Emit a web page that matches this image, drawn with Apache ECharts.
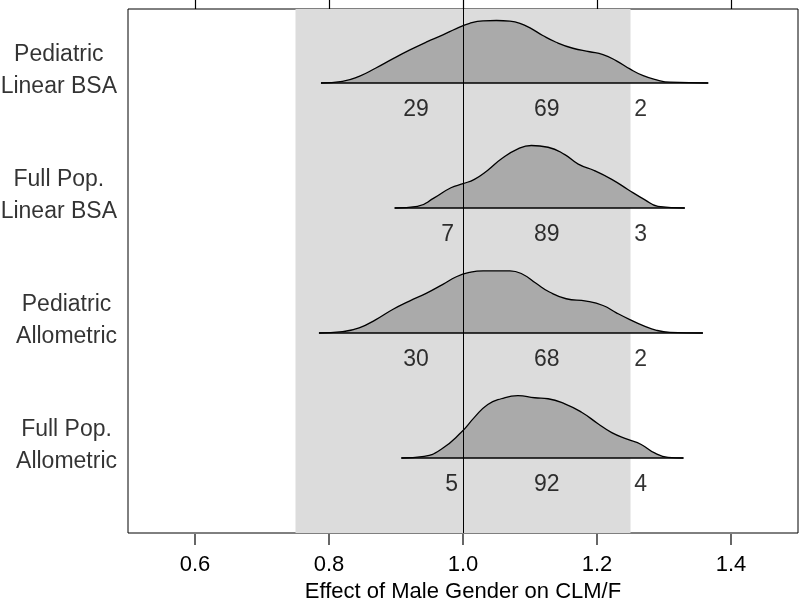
<!DOCTYPE html>
<html>
<head>
<meta charset="utf-8">
<script src="https://cdn.jsdelivr.net/npm/echarts@6/dist/echarts.min.js"></script>
<style>
  html, body { margin: 0; padding: 0; background: #fff; }
  #main { width: 800px; height: 601px; }
</style>
</head>
<body>
<div id="main"></div>
<script>
// ridge labels, top to bottom
var models = ['Pediatric\nLinear BSA', 'Full Pop.\nLinear BSA', 'Pediatric\nAllometric', 'Full Pop.\nAllometric'];
var rowPos = [3, 2, 1, 0];

// relative density (peak = 1)
var dens1 = [[0.788, 0], [0.820, 0.027], [0.845, 0.107], [0.870, 0.24], [0.895, 0.385], [0.920, 0.525],
  [0.945, 0.653], [0.970, 0.77], [0.99, 0.87], [1.01, 0.955], [1.03, 0.995], [1.05, 1.0], [1.07, 0.99], [1.085, 0.955],
  [1.102, 0.87], [1.119, 0.76], [1.139, 0.652], [1.164, 0.556], [1.189, 0.5], [1.209, 0.454], [1.229, 0.355],
  [1.249, 0.225], [1.269, 0.117], [1.289, 0.05], [1.309, 0.013], [1.366, 0]];
var dens2 = [[0.898, 0], [0.932, 0.027], [0.957, 0.162], [0.982, 0.324], [1.0, 0.389], [1.017, 0.459],
  [1.037, 0.605], [1.057, 0.783], [1.082, 0.945], [1.102, 1.0], [1.127, 0.972], [1.152, 0.854],
  [1.172, 0.702], [1.197, 0.595], [1.222, 0.459], [1.246, 0.297], [1.271, 0.135], [1.291, 0.027], [1.331, 0]];
var dens3 = [[0.785, 0], [0.820, 0.021], [0.845, 0.081], [0.870, 0.215], [0.895, 0.376], [0.920, 0.511],
  [0.945, 0.634], [0.970, 0.779], [0.99, 0.9], [1.01, 0.97], [1.03, 0.995], [1.07, 0.995], [1.089, 0.94], [1.109, 0.795],
  [1.129, 0.656], [1.154, 0.548], [1.184, 0.511], [1.209, 0.44], [1.229, 0.323], [1.249, 0.215],
  [1.269, 0.118], [1.289, 0.043], [1.309, 0.011], [1.358, 0]];
var dens4 = [[0.908, 0], [0.942, 0.027], [0.967, 0.135], [0.997, 0.407], [1.017, 0.65], [1.037, 0.857],
  [1.057, 0.948], [1.082, 0.997], [1.107, 0.964], [1.127, 0.948], [1.152, 0.867], [1.177, 0.732],
  [1.201, 0.553], [1.222, 0.407], [1.246, 0.298], [1.266, 0.216], [1.286, 0.081], [1.306, 0.011], [1.329, 0]];
var densities = [dens1, dens2, dens3, dens4];

// percentages below 1.0, between 1.0 and 1.25, above 1.25
var pctLow = [29, 7, 30, 5];
var pctMid = [69, 89, 68, 92];
var pctHigh = [2, 3, 2, 4];
var pctLowX = [0.93, 0.977, 0.93, 0.983];
var pctMidX = 1.125;
var pctHighX = 1.265;

var xTicks = [0.6, 0.8, 1.0, 1.2, 1.4];
var refBand = [0.75, 1.25];
var refLine = 1.0;
var yMin = -0.6, yMax = 3.592;

var font = 'Liberation Sans, Arial, sans-serif';
var ridgeScale = 0.5;

var series = [];

// shaded reference band and vertical line at 1
series.push({
  type: 'line',
  data: [],
  z: 1,
  markArea: {
    silent: true,
    itemStyle: { color: '#dcdcdc' },
    data: [[{ xAxis: refBand[0] }, { xAxis: refBand[1] }]]
  }
});
series.push({
  type: 'line',
  data: [],
  z: 10,
  markLine: {
    silent: true,
    symbol: 'none',
    label: { show: false },
    lineStyle: { color: '#000', width: 1, type: 'solid' },
    data: [{ xAxis: refLine }]
  }
});

densities.forEach(function (d, i) {
  var base = rowPos[i];
  series.push({
    type: 'line',
    z: 3,
    smooth: 0.5,
    showSymbol: false,
    silent: true,
    data: d.map(function (p) { return [p[0], base + p[1] * ridgeScale]; }),
    lineStyle: { color: '#000', width: 1.3 },
    areaStyle: { color: '#aaaaaa', opacity: 1, origin: base }
  });
  series.push({
    type: 'line',
    z: 4,
    showSymbol: false,
    silent: true,
    data: [[d[0][0], base], [d[d.length - 1][0], base]],
    lineStyle: { color: '#000', width: 1.3 }
  });
});

// tick marks under the plot box, placed through the x axis scale
series.push({
  type: 'custom',
  z: 12,
  silent: true,
  clip: false,
  data: xTicks.map(function (v) { return [v, yMin]; }),
  encode: { x: 0, y: 1 },
  renderItem: function (params, api) {
    var p = api.coord([api.value(0), api.value(1)]);
    return {
      type: 'line',
      shape: { x1: p[0], y1: p[1] + 1, x2: p[0], y2: p[1] + 12 },
      style: { stroke: '#000', lineWidth: 1.2 }
    };
  }
});

// percentage labels under each ridge
var pctData = [];
rowPos.forEach(function (b, i) {
  pctData.push([pctLowX[i], b - 0.21, pctLow[i]]);
  pctData.push([pctMidX, b - 0.21, pctMid[i]]);
  pctData.push([pctHighX, b - 0.21, pctHigh[i]]);
});
series.push({
  type: 'scatter',
  z: 12,
  symbolSize: 0,
  silent: true,
  clip: false,
  data: pctData,
  label: {
    show: true,
    position: 'inside',
    color: '#000',
    fontSize: 23,
    fontFamily: font,
    formatter: function (p) { return String(p.value[2]); }
  }
});

// model names to the left of the plot
series.push({
  type: 'scatter',
  z: 12,
  symbolSize: 0,
  silent: true,
  clip: false,
  data: models.map(function (m, i) { return [0.5, rowPos[i] + 0.1, m]; }),
  label: {
    show: true,
    position: 'left',
    distance: 11,
    formatter: function (p) {
      return p.value[2].split('\n').map(function (l) { return '{c|' + l + '}'; }).join('\n');
    },
    rich: {
      c: { align: 'center', fontSize: 23, lineHeight: 32, fontFamily: font, color: '#000' }
    }
  }
});

var option = {
  backgroundColor: '#fff',
  animation: false,
  grid: {
    left: 128, right: 2, top: 9, bottom: 68,
    outerBoundsMode: 'none',
    containLabel: false,
    show: true, borderColor: '#000', borderWidth: 1, backgroundColor: 'transparent'
  },
  xAxis: [{
    type: 'value',
    position: 'bottom',
    min: 0.5, max: 1.5,
    name: 'Effect of Male Gender on CLM/F',
    nameLocation: 'middle',
    nameGap: 45,
    nameTextStyle: { color: '#000', fontSize: 22, fontFamily: font },
    axisLine: { show: false, onZero: false },
    splitLine: { show: false },
    axisTick: { show: false },
    axisLabel: {
      customValues: xTicks, margin: 21, color: '#000', fontSize: 22, fontFamily: font,
      formatter: function (v) { return v.toFixed(1); }
    }
  }, {
    type: 'value',
    position: 'top',
    min: 0.5, max: 1.5,
    axisLine: { show: false, onZero: false },
    splitLine: { show: false },
    axisTick: { show: true, length: 9, customValues: xTicks, lineStyle: { color: '#000', width: 1.2 } },
    axisLabel: { show: false, customValues: xTicks }
  }],
  yAxis: {
    type: 'value',
    min: yMin, max: yMax,
    show: false,
    splitLine: { show: false }
  },
  series: series
};

var chart = echarts.init(document.getElementById('main'));
chart.setOption(option);
</script>
</body>
</html>
